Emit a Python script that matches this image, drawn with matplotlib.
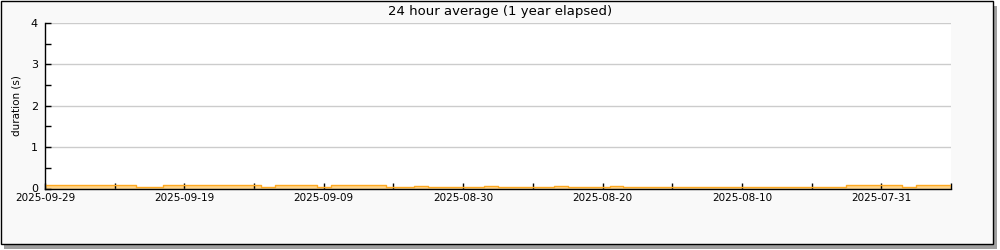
import numpy as np
import pandas as pd
import matplotlib
matplotlib.use("Agg")
import matplotlib.pyplot as plt
import matplotlib.dates as mdates
from matplotlib.patches import Rectangle

# daily 24h averages, newest first (2025-09-29 going back)
days = pd.date_range("2025-09-29", periods=66, freq="-1D")
durations = [
    0.08, 0.08, 0.08, 0.08, 0.08, 0.08, 0.08,   # 09-29 .. 09-23
    0.04, 0.04,                                  # 09-22 .. 09-21
    0.08, 0.08, 0.08, 0.08, 0.08, 0.08, 0.08,   # 09-20 .. 09-14
    0.04,                                        # 09-13
    0.08, 0.08, 0.08,                            # 09-12 .. 09-10
    0.04,                                        # 09-09
    0.08, 0.08, 0.08, 0.08,                      # 09-08 .. 09-05
    0.04, 0.04,                                  # 09-04 .. 09-03
    0.065,                                       # 09-02
    0.04, 0.04, 0.04, 0.04,                      # 09-01 .. 08-29
    0.065,                                       # 08-28
    0.04, 0.04, 0.04, 0.04,                      # 08-27 .. 08-24
    0.065,                                       # 08-23
    0.04, 0.04, 0.04,                            # 08-22 .. 08-20
    0.065,                                       # 08-19
    0.04, 0.04, 0.04, 0.04, 0.04, 0.04, 0.04, 0.04,   # 08-18 .. 08-11
    0.04, 0.04, 0.04, 0.04, 0.04, 0.04, 0.04, 0.04,   # 08-10 .. 08-03
    0.08, 0.08, 0.08, 0.08,                      # 08-02 .. 07-30
    0.04,                                        # 07-29
    0.08, 0.08, 0.08,                            # 07-28 .. 07-26
]

label_dates = pd.date_range("2025-09-29", periods=7, freq="-10D")
minor_dates = pd.date_range("2025-09-24", periods=7, freq="-10D")

fig = plt.figure(figsize=(10, 2.5), dpi=100, facecolor="white")

# rrdtool-like frame with drop shadow, kept behind the axes
fig.patches.append(Rectangle((0.004, 0.006), 0.993, 0.972, transform=fig.transFigure,
                             facecolor="#a0a0a0", edgecolor="none", zorder=-3))
fig.patches.append(Rectangle((0.001, 0.024), 0.992, 0.972, transform=fig.transFigure,
                             facecolor="#f9f9f9", edgecolor="black", linewidth=1, zorder=-2))

ax = fig.add_axes([0.045, 0.246, 0.906, 0.662])
ax.set_facecolor("white")

x = mdates.date2num(days)
ax.fill_between(x, durations, 0, step="mid", color="#ffd488", linewidth=0, zorder=2)
ax.step(x, durations, where="mid", color="#ffaa22", linewidth=1.0, zorder=3)

left = mdates.date2num(pd.Timestamp("2025-09-29"))
ax.set_xlim(left, left - 64.1)
ax.set_ylim(0, 4)

ax.set_xticks(mdates.date2num(label_dates))
ax.set_xticklabels([d.strftime("%Y-%m-%d") for d in label_dates])
ax.set_xticks(mdates.date2num(minor_dates), minor=True)
ax.set_yticks([0, 1, 2, 3, 4])
ax.set_yticks([0.5, 1.5, 2.5, 3.5], minor=True)

ax.tick_params(axis="both", which="both", direction="in", length=4, width=1,
               colors="black", labelsize=7.5, pad=2)
ax.tick_params(axis="x", which="both", top=False, pad=3)
ax.tick_params(axis="y", which="both", right=False, pad=5)
ax.tick_params(axis="y", which="major", labelsize=8)

ax.grid(axis="y", which="major", color="#cccccc", linewidth=1, zorder=1)
ax.set_axisbelow(False)
for s in ("top", "right"):
    ax.spines[s].set_visible(False)
for s in ("left", "bottom"):
    ax.spines[s].set_color("black")
    ax.spines[s].set_linewidth(1)
    ax.spines[s].set_zorder(4)

ax.set_ylabel("duration (s)", fontsize=7.5, labelpad=7)
fig.text(0.5, 1 - 11 / 250, "24 hour average (1 year elapsed)", ha="center", va="center",
         fontsize=9.5)

fig.savefig("out.png", dpi=100, facecolor=fig.get_facecolor())
